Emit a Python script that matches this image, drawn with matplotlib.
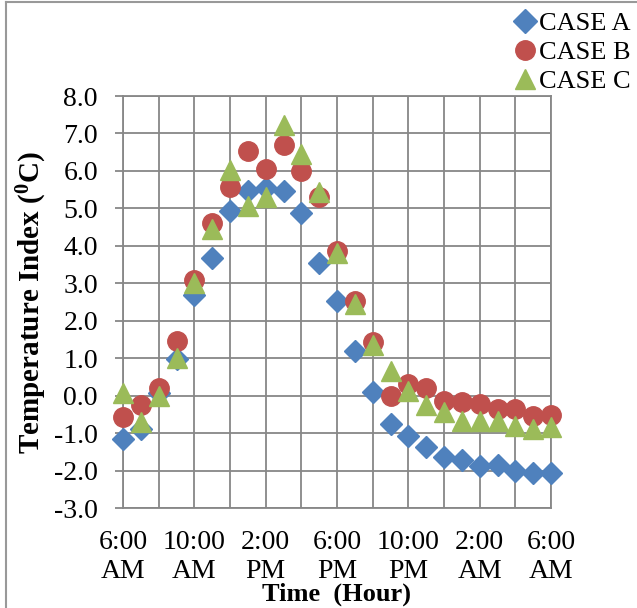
import matplotlib
matplotlib.use("Agg")
import matplotlib.pyplot as plt
from matplotlib.lines import Line2D
from matplotlib.ticker import MultipleLocator, FixedLocator, FormatStrFormatter

plt.rcParams['font.family'] = ['Liberation Serif', 'DejaVu Serif']
plt.rcParams['mathtext.fontset'] = 'custom'
plt.rcParams['mathtext.rm'] = 'Liberation Serif'
plt.rcParams['mathtext.bf'] = 'Liberation Serif:bold'

# hours after 6:00 AM
hours = list(range(25))
tick_labels = ["6:00\nAM", "10:00\nAM", "2:00\nPM", "6:00\nPM", "10:00\nPM", "2:00\nAM", "6:00\nAM"]
case_a = [-1.15, -0.88, 0.08, 0.98, 2.68, 3.68, 4.93, 5.47, 5.55, 5.47, 4.88, 3.55,
          2.53, 1.2, 0.1, -0.75, -1.07, -1.38, -1.63, -1.73, -1.88, -1.85, -2.0, -2.07, -2.07]
case_b = [-0.58, -0.24, 0.2, 1.47, 3.1, 4.6, 5.58, 6.52, 6.05, 6.68, 6.0, 5.3,
          3.87, 2.53, 1.42, 0.0, 0.3, 0.2, -0.15, -0.18, -0.22, -0.35, -0.35, -0.55, -0.53]
case_c = [0.08, -0.7, 0.0, 1.0, 3.0, 4.45, 6.02, 5.05, 5.3, 7.22, 6.45, 5.45,
          3.82, 2.45, 1.35, 0.67, 0.12, -0.25, -0.45, -0.67, -0.68, -0.68, -0.8, -0.88, -0.85]
labels = ["CASE A", "CASE B", "CASE C"]
colors = ["#4F81BD", "#C0504D", "#9BBB59"]
markers = ["D", "o", "^"]
sizes = [11, 14, 15]

fig = plt.figure(figsize=(6.37, 6.08), dpi=100)
ax = fig.add_axes([123/637, 1-508/608, (551-123)/637, (508-96)/608])

grid_c = "#878787"
for vals, lab, c, m, s in zip([case_a, case_b, case_c], labels, colors, markers, sizes):
    ax.plot(hours, vals, linestyle='none', marker=m, markersize=s, color=c,
            markeredgecolor=c, label=lab, zorder=3, clip_on=False)

ax.set_xlim(0, 24)
ax.set_ylim(-3, 8)
ax.yaxis.set_major_locator(MultipleLocator(1))
ax.yaxis.set_major_formatter(FormatStrFormatter('%.1f'))
ax.xaxis.set_major_locator(FixedLocator([0, 4, 8, 12, 16, 20, 24]))
ax.set_xticklabels(tick_labels, linespacing=1.2)
ax.xaxis.set_minor_locator(MultipleLocator(2))
ax.grid(True, which='both', axis='x', color=grid_c, linewidth=1.3)
ax.grid(True, which='major', axis='y', color=grid_c, linewidth=1.3)
ax.set_axisbelow(True)
for sp in ax.spines.values():
    sp.set_color(grid_c)
    sp.set_linewidth(1.3)
ax.tick_params(axis='y', which='major', length=6, width=1.3, color=grid_c,
               pad=12, labelsize=20)
ax.tick_params(axis='x', which='both', length=0, pad=16, labelsize=20)

ax.set_ylabel(r"Temperature Index ($\mathbf{^{0}}$C)", fontsize=21, fontweight='bold', labelpad=4)
ax.set_xlabel("Time  (Hour)", fontsize=19, fontweight='bold', labelpad=-1)

handles = [Line2D([], [], linestyle='none', marker=m, color=c, markersize=s)
           for m, c, s in zip(markers, colors, [12, 14, 15])]
fig.legend(handles, labels, loc='upper right', bbox_to_anchor=(1.008, 1.0),
           frameon=False, fontsize=19, handletextpad=0.0, labelspacing=0.2,
           handlelength=1.0, borderaxespad=0.05)

# partial outer frame (left and top)
fig.add_artist(Line2D([5.5/637, 5.5/637], [0, 1-2/608], transform=fig.transFigure,
                      color="#999999", linewidth=1.5))
fig.add_artist(Line2D([5.5/637, 1], [1-2/608, 1-2/608], transform=fig.transFigure,
                      color="#999999", linewidth=1.5))

fig.savefig("out.png", dpi=100)
